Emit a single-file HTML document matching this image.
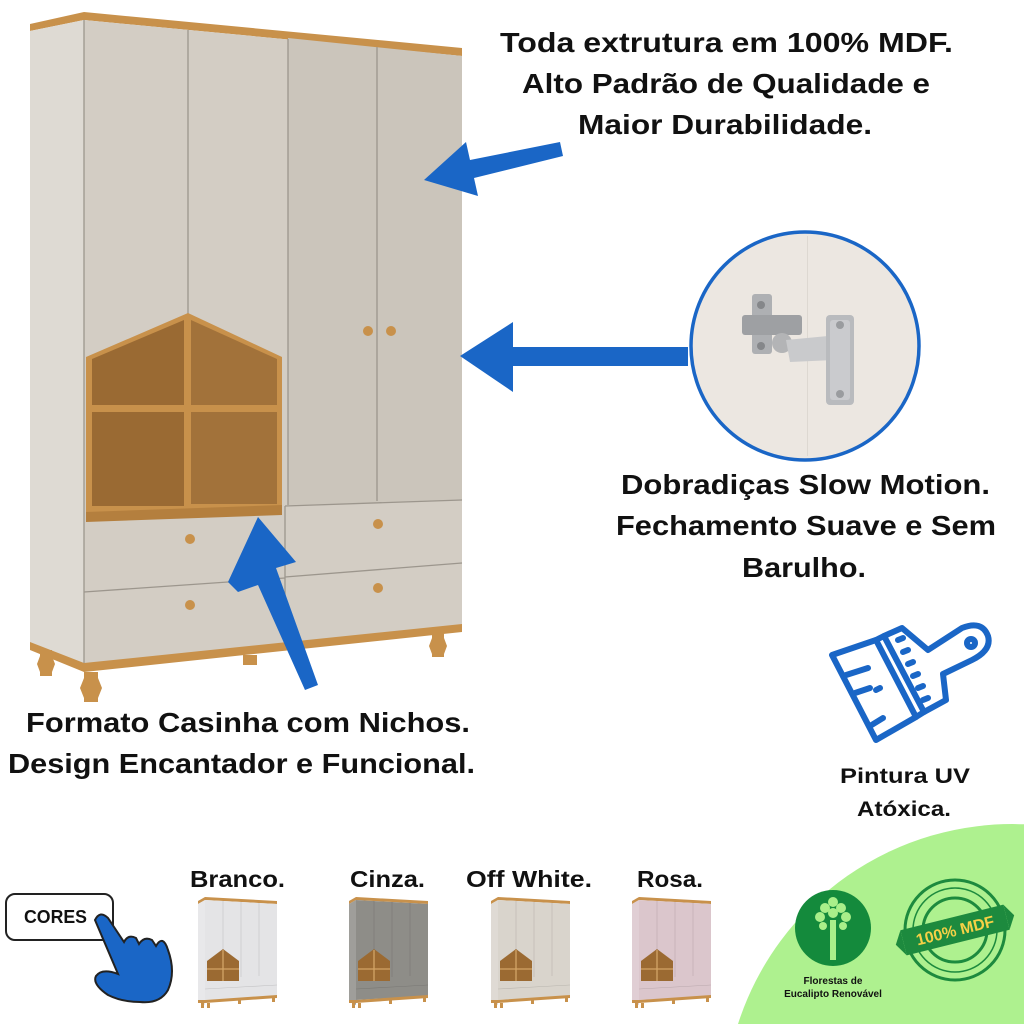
<!DOCTYPE html>
<html><head><meta charset="utf-8"><style>
html,body{margin:0;padding:0;background:#fff;width:1024px;height:1024px;overflow:hidden;}
svg{display:block;}
text{font-family:"Liberation Sans","DejaVu Sans",sans-serif;font-weight:bold;fill:#111;}
</style></head><body>
<svg width="1024" height="1024" viewBox="0 0 1024 1024" xmlns="http://www.w3.org/2000/svg">
<defs>
<symbol id="mini" viewBox="0 0 84 116">
  <polygon points="3,8 10,4 82,8 82,11 10,7 3,11" fill="#c8914b"/>
  <polygon points="3,11 10,7 10,112 3,108" fill="currentColor" opacity="0.85"/>
  <polygon points="10,7 82,11 82,103 10,107" fill="currentColor"/>
  <g stroke="#000" stroke-opacity="0.15" stroke-width="0.6" fill="none">
    <line x1="28" y1="8" x2="28" y2="58"/><line x1="46" y1="9" x2="46" y2="84"/><line x1="64" y1="10" x2="64" y2="83"/>
    <line x1="10" y1="96" x2="46" y2="94"/><line x1="46" y1="94" x2="82" y2="92"/>
  </g>
  <polygon points="12,68 28,56 44,68 44,88 12,88" fill="#9b6a32"/>
  <g stroke="#d3a566" stroke-width="1.3"><line x1="28" y1="57" x2="28" y2="88"/><line x1="12" y1="76" x2="44" y2="76"/></g>
  <polygon points="3,107 10,107 82,102 82,105 10,110 3,110" fill="#c8914b"/>
  <g fill="#c8914b"><rect x="6" y="110" width="3" height="5"/><rect x="12" y="110" width="3" height="5"/><rect x="43" y="107" width="3" height="4"/><rect x="77" y="104" width="3" height="5"/></g>
</symbol>
</defs>

<path d="M738,1024 A288,288 0 0 1 1024,824.3 L1024,1024 Z" fill="#aef18f"/>

<polygon points="30,24 84,12 462,48 462,56 84,20 30,31" fill="#c8914b"/>
<polygon points="30,31 84,20 84,665 30,643" fill="#dedad3"/>
<polygon points="84,20 462,56 462,626 84,665" fill="#d3cdc4"/>
<polygon points="288,38 462,56 462,500 288,505" fill="#cbc5bb"/>
<g stroke="#9c968d" stroke-width="1.3" fill="none">
  <line x1="84" y1="20" x2="84" y2="665"/>
  <line x1="188" y1="30" x2="188" y2="315"/>
  <line x1="288" y1="39" x2="288" y2="505"/>
  <line x1="377" y1="47" x2="377" y2="501"/>
  <line x1="285" y1="506" x2="462" y2="500"/>
  <line x1="285" y1="577" x2="462" y2="563"/>
  <line x1="84" y1="592" x2="285" y2="578"/>
  <line x1="285" y1="506" x2="285" y2="645"/>
</g>
<polygon points="86,357 188,313 282,357 282,512 86,520" fill="#c8914b"/>
<polygon points="92,359 184,320 184,405 92,405" fill="#9a6a33"/>
<polygon points="191,320 277,359 277,405 191,405" fill="#a2723a"/>
<rect x="92" y="412" width="92" height="94" fill="#9a6a33"/>
<rect x="191" y="412" width="86" height="92" fill="#a2723a"/>
<polygon points="86,512 282,505 282,515 86,522" fill="#b47f3e"/>
<g fill="#c8914b"><circle cx="368" cy="331" r="5"/><circle cx="391" cy="331" r="5"/><circle cx="190" cy="539" r="5"/><circle cx="190" cy="605" r="5"/><circle cx="378" cy="524" r="5"/><circle cx="378" cy="588" r="5"/></g>
<polygon points="30,642 84,663 462,624 462,632 84,672 30,650" fill="#c8914b"/>
<g fill="#c8914b">
  <path d="M40,650h12v6l3,8-3,8v4h-12v-4l-3,-8 3,-8z"/>
  <path d="M84,672h14v6l4,10-4,10v4h-14v-4l-4,-10 4,-10z"/>
  <path d="M243,655h14v10h-14z"/>
  <path d="M432,632h12v6l3,8-3,8v3h-12v-3l-3,-8 3,-8z"/>
</g>

<g fill="#1a66c6">
  <polygon points="560,142 470,160 466,142 424,180 478,196 474,178 563,156"/>
  <polygon points="688,347 513,347 513,322 460,356 513,392 513,366 688,366"/>
  <polygon points="318,685 305,690 258,585 238,592 228,582 258,517 296,562 276,568"/>
</g>

<circle cx="805" cy="346" r="114" fill="#ece7e1" stroke="#1a66c6" stroke-width="3.5"/>
<rect x="807" y="236" width="1" height="220" fill="#ddd8d1"/>
<g>
  <rect x="752" y="294" width="20" height="60" rx="3" fill="#aeb0b3"/>
  <rect x="742" y="315" width="60" height="20" rx="3" fill="#9ea0a3"/>
  <circle cx="782" cy="343" r="10" fill="#b3b4b6"/>
  <polygon points="786,340 828,336 834,360 790,362" fill="#c9cacc"/>
  <rect x="826" y="315" width="28" height="90" rx="4" fill="#b9bbbe"/>
  <rect x="830" y="320" width="20" height="80" rx="3" fill="#cacbce"/>
  <circle cx="840" cy="325" r="4" fill="#9a9c9f"/><circle cx="840" cy="394" r="4" fill="#9a9c9f"/>
  <circle cx="761" cy="305" r="4" fill="#85878a"/><circle cx="761" cy="346" r="4" fill="#85878a"/>
</g>

<g fill="none" stroke="#1a66c6" stroke-width="6" stroke-linecap="round" stroke-linejoin="round">
  <path d="M832,655 L876,640 L916,717 L876,740 Z"/>
  <path d="M876,640 L884,636 L924,712 L916,717"/>
  <path d="M884,636 L902,628 L928,650 L962,628 Q982,620 988,636 Q992,650 972,660 L943,674 L946,700 L924,712"/>
  <circle cx="971" cy="643" r="4"/>
  <path d="M843,676 L868,668 M855,693 L870,688 M876,690 L880,688 M870,726 L883,718"/>
  <path d="M898,640l5,-2 M903,652l5,-2 M908,664l5,-2 M913,676l5,-2 M918,688l5,-2 M923,700l5,-2"/>
</g>

<text x="500" y="52" font-size="28" textLength="453" lengthAdjust="spacingAndGlyphs">Toda extrutura em 100% MDF.</text>
<text x="522" y="93" font-size="28" textLength="408" lengthAdjust="spacingAndGlyphs">Alto Padrão de Qualidade e</text>
<text x="578" y="134" font-size="28" textLength="294" lengthAdjust="spacingAndGlyphs">Maior Durabilidade.</text>
<text x="621" y="494" font-size="28" textLength="369" lengthAdjust="spacingAndGlyphs">Dobradiças Slow Motion.</text>
<text x="616" y="535" font-size="28" textLength="380" lengthAdjust="spacingAndGlyphs">Fechamento Suave e Sem</text>
<text x="742" y="577" font-size="28" textLength="124" lengthAdjust="spacingAndGlyphs">Barulho.</text>
<text x="26" y="732" font-size="28" textLength="444" lengthAdjust="spacingAndGlyphs">Formato Casinha com Nichos.</text>
<text x="8" y="773" font-size="28" textLength="467" lengthAdjust="spacingAndGlyphs">Design Encantador e Funcional.</text>
<text x="840" y="783" font-size="21" textLength="130" lengthAdjust="spacingAndGlyphs">Pintura UV</text>
<text x="857" y="816" font-size="21" textLength="94" lengthAdjust="spacingAndGlyphs">Atóxica.</text>
<text x="190" y="887" font-size="23" textLength="95" lengthAdjust="spacingAndGlyphs">Branco.</text>
<text x="350" y="887" font-size="23" textLength="75" lengthAdjust="spacingAndGlyphs">Cinza.</text>
<text x="466" y="887" font-size="23" textLength="126" lengthAdjust="spacingAndGlyphs">Off White.</text>
<text x="637" y="887" font-size="23" textLength="66" lengthAdjust="spacingAndGlyphs">Rosa.</text>

<use href="#mini" x="195" y="893" width="84" height="116" style="color:#e4e4e6"/>
<use href="#mini" x="346" y="893" width="84" height="116" style="color:#8e8d88"/>
<use href="#mini" x="488" y="893" width="84" height="116" style="color:#d9d4cc"/>
<use href="#mini" x="629" y="893" width="84" height="116" style="color:#dbc6cc"/>

<rect x="6" y="894" width="107" height="46" rx="9" fill="#fff" stroke="#222" stroke-width="2"/>
<text x="24" y="923" font-size="18" textLength="63" lengthAdjust="spacingAndGlyphs">CORES</text>
<path d="M95,920 Q100,910 108,918 L124,942 Q128,934 136,938 L139,944 Q144,936 152,940 L156,946 Q163,934 168,950 Q176,972 168,990 Q160,1004 140,1002 Q122,1002 108,995 Q92,984 96,976 Q102,968 118,974 Z" fill="#1a66c6" stroke="#222" stroke-width="2"/>

<circle cx="833" cy="928" r="38" fill="#148a3c"/>
<rect x="830" y="920" width="6" height="40" fill="#a9ef8a"/>
<g fill="#a9ef8a">
  <circle cx="833" cy="902" r="5"/><circle cx="825" cy="908" r="5"/><circle cx="841" cy="908" r="5"/>
  <circle cx="820" cy="917" r="5"/><circle cx="846" cy="917" r="5"/><circle cx="833" cy="913" r="5"/>
  <circle cx="823" cy="926" r="4"/><circle cx="843" cy="926" r="4"/>
</g>
<text x="833" y="984" font-size="10" text-anchor="middle">Florestas de</text>
<text x="833" y="997" font-size="10" text-anchor="middle">Eucalipto Renovável</text>

<circle cx="955" cy="930" r="50" fill="none" stroke="#1d8a3e" stroke-width="3"/>
<circle cx="955" cy="930" r="42" fill="none" stroke="#1d8a3e" stroke-width="1.5"/>
<circle cx="955" cy="930" r="32" fill="none" stroke="#1d8a3e" stroke-width="3"/>
<g transform="rotate(-14 955 930)">
  <rect x="902" y="917" width="106" height="26" fill="#1d8a3e"/>
  <polygon points="902,917 894,930 902,943" fill="#1d8a3e"/>
  <polygon points="1008,917 1016,930 1008,943" fill="#1d8a3e"/>
  <text x="955" y="936" font-size="16" text-anchor="middle" style="fill:#f5d146">100% MDF</text>
</g>
</svg>
</body></html>
